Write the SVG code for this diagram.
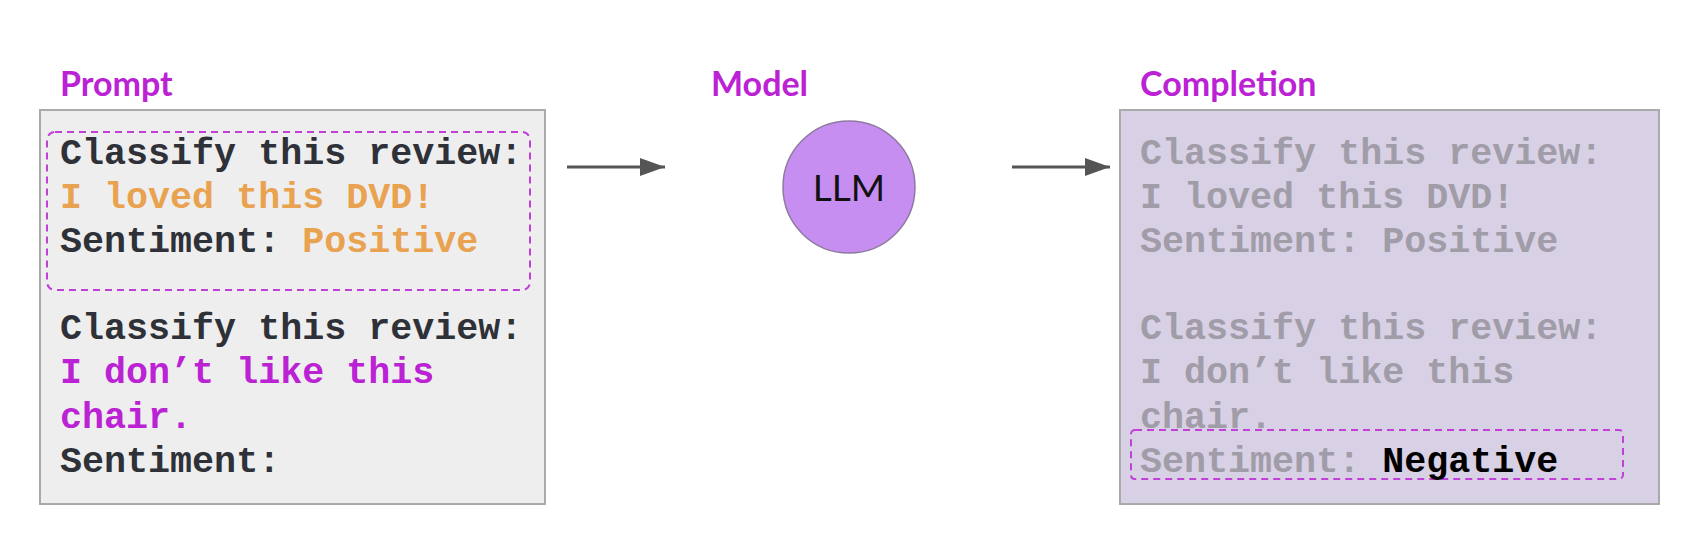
<svg xmlns="http://www.w3.org/2000/svg" width="1702" height="552" viewBox="0 0 1702 552">
<style>
.lbl{font-family:Lato,"Noto Sans",sans-serif;font-weight:bold;font-size:34px;fill:#BB22D4}
.mono{font-family:"Liberation Mono","Courier New",monospace;font-weight:bold;font-size:36.7px}
.dark{fill:#2E3138}
.org{fill:#E9A24F}
.mag{fill:#BB22D4}
.gry{fill:#A09CA8}
.blk{fill:#000000}
.dash{fill:none;stroke:#C040D8;stroke-width:2;stroke-dasharray:7 5}
.conn{stroke:#555555;stroke-width:3.2;fill:none}
</style>
<defs>
<marker id="ah" viewBox="0 0 25 18" refX="25" refY="9" markerWidth="25" markerHeight="18" markerUnits="userSpaceOnUse" orient="auto">
<path d="M0,0 L25,9 L0,18 z" fill="#555555"/>
</marker>
</defs>
<rect width="1702" height="552" fill="#FFFFFF"/>
<g id="prompt">
<text class="lbl" x="60" y="96">Prompt</text>
<rect x="40" y="110" width="505" height="394" fill="#EEEEEE" stroke="#AAAAAA" stroke-width="2"/>
<rect class="dash" x="47" y="132" width="483" height="158" rx="8"/>
<text class="mono dark" x="60" y="164">Classify this review:</text>
<text class="mono org" x="60" y="208">I loved this DVD!</text>
<text class="mono" x="60" y="252"><tspan class="dark">Sentiment: </tspan><tspan class="org">Positive</tspan></text>
<text class="mono dark" x="60" y="339">Classify this review:</text>
<text class="mono mag" x="60" y="383">I don’t like this</text>
<text class="mono mag" x="60" y="428">chair.</text>
<text class="mono dark" x="60" y="472">Sentiment:</text>
</g>
<g id="model">
<text class="lbl" x="711" y="96">Model</text>
<circle cx="849" cy="187" r="66" fill="#C78EF2" stroke="#8E7AA0" stroke-width="1.5"/>
<text x="849" y="201" text-anchor="middle" font-family="Lato,'Noto Sans',sans-serif" font-size="37" fill="#111111">LLM</text>
</g>
<g id="completion">
<text class="lbl" x="1140" y="96">Completion</text>
<rect x="1120" y="110" width="539" height="394" fill="#D8D0E4" stroke="#AAAAAA" stroke-width="2"/>
<text class="mono gry" x="1140" y="164">Classify this review:</text>
<text class="mono gry" x="1140" y="208">I loved this DVD!</text>
<text class="mono gry" x="1140" y="252">Sentiment: Positive</text>
<text class="mono gry" x="1140" y="339">Classify this review:</text>
<text class="mono gry" x="1140" y="383">I don’t like this</text>
<text class="mono gry" x="1140" y="428">chair.</text>
<rect class="dash" x="1131" y="430" width="492" height="49" rx="4"/>
<text class="mono" x="1140" y="472"><tspan class="gry">Sentiment: </tspan><tspan class="blk">Negative</tspan></text>
</g>
<g id="connectors">
<line class="conn" x1="567" y1="167" x2="665" y2="167" marker-end="url(#ah)"/>
<line class="conn" x1="1012" y1="167" x2="1110" y2="167" marker-end="url(#ah)"/>
</g>
</svg>
